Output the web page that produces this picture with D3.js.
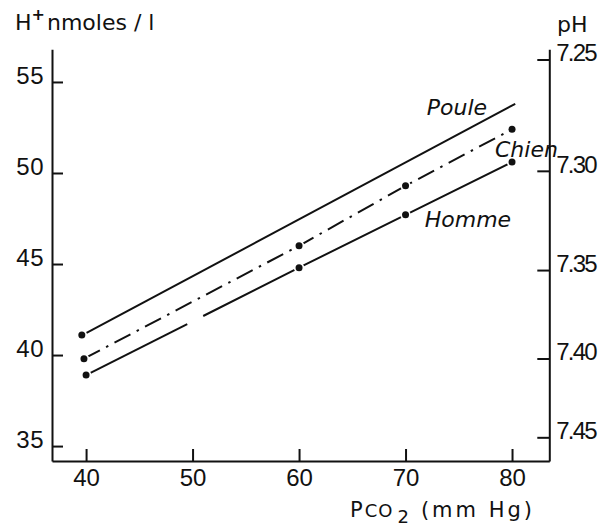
<!DOCTYPE html>
<html>
<head>
<meta charset="utf-8">
<script src="https://cdn.jsdelivr.net/npm/d3@7"></script>
<style>
    body { margin: 0; background: #fff; }
    svg { display: block; font-family: 'DejaVu Sans', sans-serif; }
    .axis path, .axis line { stroke: #111; stroke-width: 2; }
    .axis text { fill: #111; font-size: 24px; }
</style>
</head>
<body>
<div class="chart-container"></div>
<script>
// Data
const pco2Ticks = [40, 50, 60, 70, 80];
const hTicks = [35, 40, 45, 50, 55];
const phTicks = [7.25, 7.30, 7.35, 7.40, 7.45];
const phLabels = ['7.25', '7.30', '7.35', '7.40', '7.45'];

// Poule : ligne continue, un seul point
const pouleLine = [[40, 41.2], [80.3, 53.8]];
const pouleDots = [[39.6, 41.1]];
// Chien : trait-point
const chienPco2 = [39.8, 60, 70, 80];
const chienH = [39.8, 46.0, 49.3, 52.4];
// Homme : continu (coupure vers 50)
const hommePco2 = [40, 60, 70, 80];
const hommeH = [38.9, 44.8, 47.7, 50.6];
const hommeGap = [[49.5, 51.0]];

// label positions in data units (pco2, H+)
const seriesLabels = [
    { name: 'Poule', x: 72.0, y: 53.19 },
    { name: 'Chien', x: 78.4, y: 50.88 },
    { name: 'Homme', x: 71.8, y: 47.03 }
];

// pH -> H+ nmoles/l
const hFromPh = ph => Math.pow(10, 9 - ph);

const svg_width = 607;
const svg_height = 529;

const svg = d3.select('.chart-container').append('svg')
    .attr('width', svg_width).attr('height', svg_height);

// Scales
const xScale = d3.scaleLinear([36.8, 83.5], [52, 549.3]);
const yScale = d3.scaleLinear([34.18, 56.8], [461, 49.2]);

// Axes (ticks point inward)
const yAxisLeft = d3.axisLeft(yScale).tickValues(hTicks)
    .tickSizeInner(-11).tickSizeOuter(0).tickPadding(8);
svg.append('g').attr('class', 'axis').attr('transform', 'translate(52,0)')
    .call(yAxisLeft)
    .call(g => g.selectAll('text').attr('dy', '0.06em').style('letter-spacing', '0.5px'));

const yAxisRight = d3.axisRight(yScale).tickValues(phTicks.map(hFromPh))
    .tickFormat((d, i) => phLabels[i])
    .tickSizeInner(-12).tickSizeOuter(0).tickPadding(7);
svg.append('g').attr('class', 'axis').attr('transform', 'translate(549.3,0)')
    .call(yAxisRight)
    .call(g => g.selectAll('text').attr('dy', '0.06em').style('letter-spacing', '-1.8px'));

const xAxis = d3.axisBottom(xScale).tickValues(pco2Ticks)
    .tickSizeInner(-12).tickSizeOuter(0).tickPadding(8);
svg.append('g').attr('class', 'axis').attr('transform', 'translate(0,461)')
    .call(xAxis);

// Lines
const line = d3.line().x(d => xScale(d[0])).y(d => yScale(d[1]));
const chienData = chienPco2.map((d, i) => [d, chienH[i]]);
const hommeData = hommePco2.map((d, i) => [d, hommeH[i]]);

const lines = svg.append('g').attr('class', 'lines')
    .style('fill', 'none').style('stroke', '#111').style('stroke-width', 2);
lines.append('path').attr('d', line(pouleLine));
lines.append('path').attr('d', line(chienData))
    .style('stroke-dasharray', '18 7 2.5 7');

// Homme split around the gap
const hommeInterp = d3.scaleLinear(hommePco2, hommeH);
const hommeSegs = [
    [hommeData[0], [hommeGap[0][0], hommeInterp(hommeGap[0][0])]],
    [[hommeGap[0][1], hommeInterp(hommeGap[0][1])], ...hommeData.slice(1)]
];
hommeSegs.forEach(s => lines.append('path').attr('d', line(s)));

// Dots, with a white ring so the line stops short of each point
const dots = [...pouleDots, ...chienData, ...hommeData];
svg.append('g').selectAll('circle').data(dots).join('circle')
    .attr('cx', d => xScale(d[0])).attr('cy', d => yScale(d[1]))
    .attr('r', 3.5)
    .style('fill', '#111').style('stroke', '#fff').style('stroke-width', 3.5)
    .style('paint-order', 'stroke');

// Series labels
svg.append('g').selectAll('text').data(seriesLabels).join('text')
    .attr('x', d => xScale(d.x)).attr('y', d => yScale(d.y))
    .style('font-style', 'italic').style('font-size', '22px').style('fill', '#111')
    .text(d => d.name);

// Axis titles
const hTitle = svg.append('text').attr('x', 15).attr('y', 30)
    .style('font-size', '22px').style('fill', '#111');
hTitle.append('tspan').text('H');
hTitle.append('tspan').text('+').attr('dy', -10).style('font-size', '16px').style('font-weight', 'bold');
hTitle.append('tspan').text('nmoles / l').attr('dy', 10).attr('dx', 2);

svg.append('text').attr('x', 557).attr('y', 32)
    .style('font-size', '22px').style('fill', '#111').text('pH');

const xTitle = svg.append('text').attr('x', 350).attr('y', 517)
    .style('font-size', '21px').style('fill', '#111');
xTitle.append('tspan').text('P');
xTitle.append('tspan').text('CO').attr('dx', 2).style('font-size', '18px').style('letter-spacing', '1px');
xTitle.append('tspan').text('2').attr('dx', 4).attr('dy', 6).style('font-size', '18px');
xTitle.append('tspan').text('(mm Hg)').attr('dx', 12).attr('dy', -6).style('letter-spacing', '3px');
</script>
</body>
</html>
